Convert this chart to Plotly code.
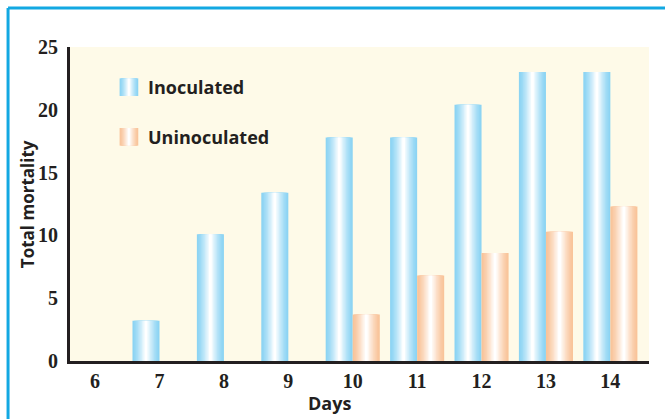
import plotly.graph_objects as go

# --- data ---
days = [6, 7, 8, 9, 10, 11, 12, 13, 14]
inoculated = [0, 3.2, 10.1, 13.4, 17.8, 17.8, 20.4, 23.0, 23.0]
uninoculated = [0, 0, 0, 0, 3.7, 6.8, 8.6, 10.3, 12.3]
y_ticks = [0, 5, 10, 15, 20, 25]

BLUE = (140, 212, 243)
ORANGE = (249, 196, 154)
CREAM = "#FEFAE8"
FRAME = "#12A8E2"
TEXT = "#231F20"
BAR_W = 0.42
LAYERS = 10


def mix(c, t):
    # t=0 -> edge colour, t=1 -> white
    r, g, b = [int(round(v + (255 - v) * t)) for v in c]
    return f"rgb({r},{g},{b})"


fig = go.Figure()


def gradient_bars(values, base_offset, color, name):
    # overlay narrower & lighter bars to fake the horizontal shading
    for k in range(LAYERS):
        w = BAR_W * (1 - k / LAYERS)
        off = base_offset + (BAR_W - w) / 2
        fig.add_trace(go.Bar(
            x=days, y=values, width=w, offset=off,
            marker=dict(color=mix(color, (k / (LAYERS - 1)) ** 1.3), line_width=0),
            name=name, showlegend=False, hoverinfo="skip" if k else None,
        ))


gradient_bars(inoculated, -BAR_W, BLUE, "Inoculated")
gradient_bars(uninoculated, 0, ORANGE, "Uninoculated")

# --- manual legend with shaded swatches ---
x_lo, x_hi = 5.61, 14.6
legend_items = [("Inoculated", BLUE, 21.8), ("Uninoculated", ORANGE, 17.85)]
shapes = []
annotations = []
sw_x0, sw_w = 6.38, 0.29
for label, col, yc in legend_items:
    for k in range(LAYERS):
        w = sw_w * (1 - k / LAYERS)
        xs = sw_x0 + (sw_w - w) / 2
        shapes.append(dict(type="rect", xref="x", yref="y", x0=xs, x1=xs + w,
                           y0=yc - 0.7, y1=yc + 0.7, line_width=0,
                           fillcolor=mix(col, (k / (LAYERS - 1)) ** 1.3)))
    annotations.append(dict(x=sw_x0 + sw_w + 0.12, y=yc, xref="x", yref="y",
                            text=f"<b>{label}</b>", showarrow=False, xanchor="left",
                            font=dict(family="Open Sans", size=18, color=TEXT)))

# axis titles as annotations so the margins stay fixed
annotations.append(dict(x=0.449, y=-0.134, xref="paper", yref="paper",
                        text="<b>Days</b>", showarrow=False,
                        xanchor="center", yanchor="middle",
                        font=dict(family="Open Sans", size=18, color=TEXT)))
annotations.append(dict(x=-0.074, y=0.5, xref="paper", yref="paper",
                        text="<b>Total mortality</b>", showarrow=False, textangle=-90,
                        xanchor="center", yanchor="middle",
                        font=dict(family="Open Sans", size=17, color=TEXT)))

# --- blue frame (top and left edge only) ---
shapes.append(dict(type="line", xref="paper", yref="paper", x0=-0.107, x1=1.2,
                   y0=1.124, y1=1.124, line=dict(color=FRAME, width=3)))
shapes.append(dict(type="line", xref="paper", yref="paper", x0=-0.107, x1=-0.107,
                   y0=1.124, y1=-0.3, line=dict(color=FRAME, width=3)))

fig.update_layout(
    width=665, height=419,
    margin=dict(l=70, r=16, t=47, b=58),
    barmode="overlay",
    plot_bgcolor=CREAM,
    paper_bgcolor="white",
    showlegend=False,
    shapes=shapes,
    annotations=annotations,
    xaxis=dict(
        range=[x_lo, x_hi], tickvals=days, automargin=False,
        showgrid=False, zeroline=False, ticks="", ticklabelstandoff=0,
        showline=True, linecolor=TEXT, linewidth=3,
        tickfont=dict(family="Liberation Serif", size=20, color=TEXT, weight="bold"),
    ),
    yaxis=dict(
        range=[0, 25], tickvals=y_ticks, automargin=False,
        showgrid=False, zeroline=False, ticks="", ticklabelstandoff=5,
        showline=True, linecolor=TEXT, linewidth=3,
        tickfont=dict(family="Liberation Serif", size=20, color=TEXT, weight="bold"),
    ),
)

fig.write_html("out.html", config={"displayModeBar": False},
               post_script="document.body.style.margin='0';")
